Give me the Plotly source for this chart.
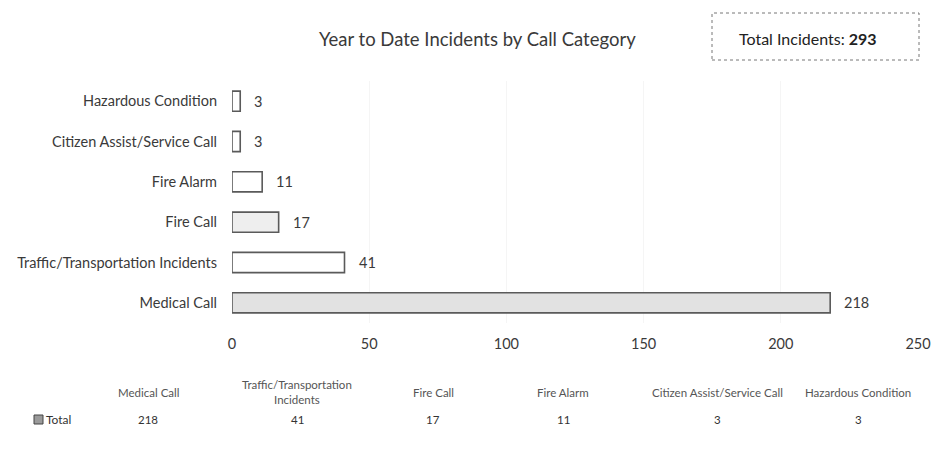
import plotly.graph_objects as go

# Call categories in table order (bottom bar first)
categories = ["Medical Call", "Traffic/Transportation Incidents", "Fire Call",
              "Fire Alarm", "Citizen Assist/Service Call", "Hazardous Condition"]
incidents = [218, 41, 17, 11, 3, 3]
table_headers = ["Medical Call", "Traffic/Transportation<br>Incidents", "Fire Call",
                 "Fire Alarm", "Citizen Assist/Service Call", "Hazardous Condition"]
x_ticks = [0, 50, 100, 150, 200, 250]
total_incidents = sum(incidents)

bar_fills = ["#e2e2e2", "#ffffff", "#eeeeee", "#ffffff", "#ffffff", "#ffffff"]

FONT = "Lato"
TEXT = "#3a3a3a"

fig = go.Figure()
fig.add_trace(go.Bar(
    x=incidents, y=categories, orientation="h",
    width=0.5,
    marker=dict(color=bar_fills, line=dict(color="#5a5a5a", width=1.6)),
    hoverinfo="x+y",
))

# value labels beside each bar
for cat, val in zip(categories, incidents):
    fig.add_annotation(x=val, y=cat, text=str(val), showarrow=False,
                       xanchor="left", xshift=12,
                       font=dict(family=FONT, size=14.5, color=TEXT))

# title and total box
fig.add_annotation(xref="paper", yref="paper", x=(477 - 232) / 686, y=1 + (81 - 39) / 242,
                   text="Year to Date Incidents by Call Category", showarrow=False,
                   xanchor="center", yanchor="middle",
                   font=dict(family=FONT, size=18.5, color=TEXT))
fig.add_shape(type="rect", xref="paper", yref="paper",
              x0=(712 - 232) / 686, x1=(919 - 232) / 686,
              y0=1 + (81 - 60) / 242, y1=1 + (81 - 13) / 242,
              line=dict(color="#777777", width=1, dash="dot"), fillcolor="white")
fig.add_annotation(xref="paper", yref="paper", x=(737 - 232) / 686, y=1 + (81 - 39) / 242,
                   text=f"Total Incidents: <b>{total_incidents}</b>", showarrow=False,
                   xanchor="left", yanchor="middle",
                   font=dict(family=FONT, size=16, color="#222222"))

# data table under the chart
col_centers = [148, 297, 433, 563, 717, 858]
for cx, head, val in zip(col_centers, table_headers, incidents):
    xp = (cx - 232) / 686
    fig.add_annotation(xref="paper", yref="paper", x=xp, y=-(392 - 323) / 242,
                       text=head, showarrow=False, xanchor="center", yanchor="middle",
                       font=dict(family=FONT, size=11.5, color="#555555"))
    fig.add_annotation(xref="paper", yref="paper", x=xp, y=-(419 - 323) / 242,
                       text=str(val), showarrow=False, xanchor="center", yanchor="middle",
                       font=dict(family=FONT, size=11.5, color="#333333"))
fig.add_shape(type="rect", xref="paper", yref="paper",
              x0=(34 - 232) / 686, x1=(43 - 232) / 686,
              y0=-(424 - 323) / 242, y1=-(415 - 323) / 242,
              line=dict(color="#444444", width=1), fillcolor="#9a9a9a")
fig.add_annotation(xref="paper", yref="paper", x=(44 - 232) / 686, y=-(419 - 323) / 242,
                   text="Total", showarrow=False, xanchor="left", yanchor="middle",
                   font=dict(family=FONT, size=12, color="#333333"))

fig.update_layout(
    width=951, height=454,
    margin=dict(l=232, r=33, t=81, b=131),
    paper_bgcolor="white", plot_bgcolor="white",
    showlegend=False,
    bargap=0.5,
    font=dict(family=FONT, size=14.5, color=TEXT),
    xaxis=dict(range=[0, 250], tickvals=x_ticks, showgrid=True, gridcolor="#f5f5f5",
               zeroline=False, showline=False, ticks="",
               ticklabelstandoff=10,
               tickfont=dict(family=FONT, size=14.5, color=TEXT)),
    yaxis=dict(categoryorder="array", categoryarray=categories, showgrid=False,
               showline=False, ticks="", ticklabelstandoff=14,
               tickfont=dict(family=FONT, size=14.5, color=TEXT)),
)

fig.write_html("out.html")
